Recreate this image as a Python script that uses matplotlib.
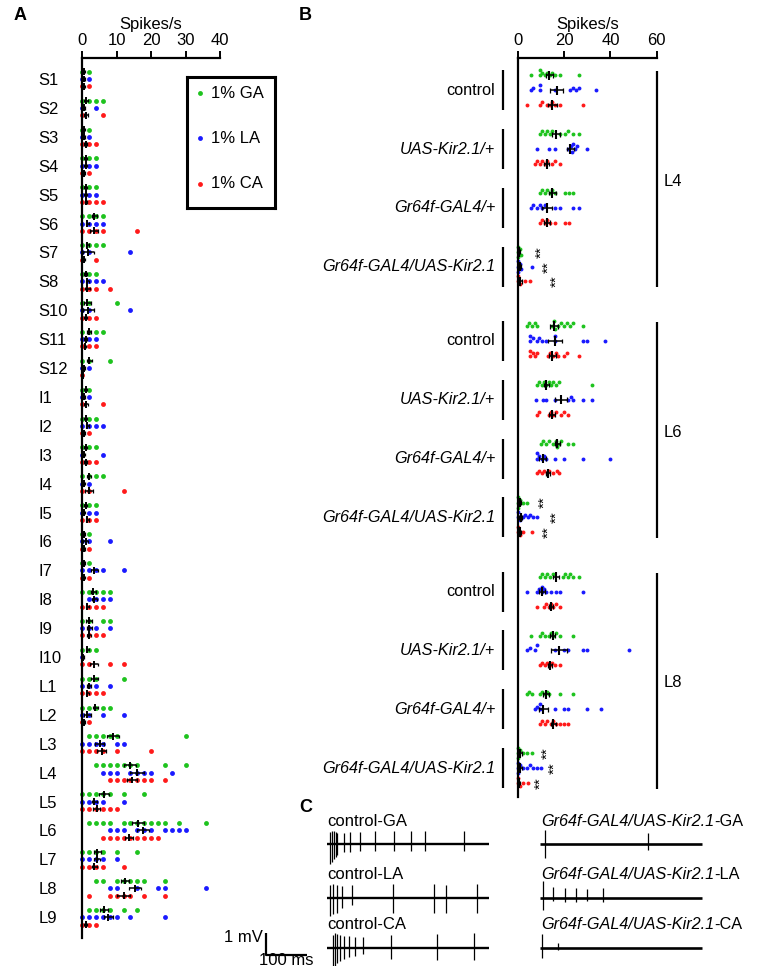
import numpy as np
import matplotlib.pyplot as plt

plt.rcParams['font.family'] = ['Liberation Sans', 'DejaVu Sans']

W, H = 774, 966
fig = plt.figure(figsize=(W / 100, H / 100), dpi=100)


def box(x0, y0, x1, y1):
    # pixel rectangle -> figure fraction
    return [x0 / W, 1 - y1 / H, (x1 - x0) / W, (y1 - y0) / H]


colors = ['#1ec31e', '#1a1aff', '#ff1a1a']
tastants = ['1% GA', '1% LA', '1% CA']

# ---------------- panel A data ----------------
sensilla = ['S1', 'S2', 'S3', 'S4', 'S5', 'S6', 'S7', 'S8', 'S10', 'S11', 'S12',
            'I1', 'I2', 'I3', 'I4', 'I5', 'I6', 'I7', 'I8', 'I9', 'I10',
            'L1', 'L2', 'L3', 'L4', 'L5', 'L6', 'L7', 'L8', 'L9']

a_ga = [[0, 2], [0, 2, 4, 6], [0, 2], [0, 2, 4], [0, 2, 4], [0, 2, 4, 6], [0, 2, 4, 6],
        [0, 2, 4], [0, 2, 10], [0, 2, 4, 6], [0, 2, 8], [0, 2], [0, 2, 4], [0, 2, 4],
        [0, 2, 4, 6], [0, 2, 4], [0, 2], [0, 2], [0, 2, 4, 6, 8], [0, 2, 6, 8], [0, 2, 4],
        [0, 2, 4, 12], [0, 2, 4, 6, 8], [2, 4, 6, 8, 10, 30],
        [4, 6, 8, 10, 12, 14, 16, 24, 30], [0, 2, 4, 6, 8, 12, 18],
        [2, 4, 6, 8, 12, 14, 16, 18, 20, 22, 24, 28, 36], [0, 2, 4, 6, 10, 16],
        [4, 6, 10, 12, 14, 16, 18, 24], [2, 4, 6, 8, 12, 16]]
a_la = [[0, 2], [0, 4], [0, 2], [0, 2, 4], [0, 2, 4], [0, 2, 4, 6], [0, 2, 14],
        [0, 2, 4, 6], [0, 2, 14], [0, 2, 4], [0, 2], [0, 2], [0, 2, 4, 6], [0, 6],
        [0, 2], [0, 2, 4], [0, 2, 8], [0, 2, 4, 6, 12], [2, 4, 6, 8], [0, 2, 4, 8], [0],
        [0, 2, 4, 8], [0, 2, 6, 12], [0, 2, 4, 6, 10, 12],
        [6, 8, 10, 14, 16, 18, 20, 26], [0, 2, 4, 6, 12],
        [8, 10, 12, 16, 18, 20, 24, 26, 28, 30], [0, 2, 4, 6, 10],
        [8, 10, 16, 22, 24, 36], [0, 2, 4, 6, 8, 10, 14, 24]]
a_ca = [[0, 2], [0, 6], [0, 2, 4], [0, 2], [0, 2, 4, 6], [0, 2, 4, 6, 16], [0, 4],
        [0, 2, 4, 8], [0, 2, 4], [0, 2, 4], [0], [0, 6], [0, 2], [0, 2, 4], [0, 2, 12],
        [0, 2, 4], [0, 2], [0, 2], [0, 2, 4, 6], [0, 2, 4, 6], [0, 2, 8, 12],
        [0, 2, 4, 6], [0, 2], [0, 2, 4, 6, 10, 20],
        [8, 10, 12, 14, 16, 18, 20, 24], [0, 2, 4, 6, 8, 10],
        [6, 8, 10, 12, 14, 16, 18, 20, 22], [0, 2, 4, 6, 12],
        [2, 8, 10, 12, 14, 18, 24], [0, 2, 4]]

a_ga_mean = [0.5, 1.1, 0.6, 1.0, 1.0, 3.5, 1.5, 1.0, 1.5, 2.0, 2.0, 1.0, 1.0, 1.0, 2.0,
             1.0, 0.5, 0.4, 3.2, 2.0, 1.5, 3.5, 3.8, 9.0, 13.9, 6.3, 16.2, 4.4, 12.4, 6.3]
a_ga_sem = [0.3, 0.5, 0.3, 0.4, 0.4, 0.7, 0.5, 0.4, 0.9, 0.6, 0.7, 0.4, 0.4, 0.4, 0.6,
            0.4, 0.3, 0.3, 0.7, 0.8, 0.4, 1.0, 0.7, 1.8, 1.7, 1.4, 1.8, 1.1, 1.3, 1.2]
a_la_mean = [0.4, 0.5, 0.5, 1.0, 1.0, 1.5, 1.8, 1.5, 1.8, 1.0, 0.4, 0.4, 1.5, 0.4, 0.4,
             0.5, 1.0, 3.5, 3.5, 2.0, 0.2, 2.0, 1.5, 5.0, 15.8, 3.5, 17.7, 4.2, 15.3, 7.5]
a_la_sem = [0.3, 0.4, 0.3, 0.4, 0.4, 0.5, 1.5, 0.5, 1.5, 0.4, 0.3, 0.3, 0.5, 0.4, 0.3,
            0.3, 0.8, 1.0, 0.7, 0.7, 0.2, 0.6, 0.9, 1.2, 2.0, 0.8, 1.8, 0.9, 1.7, 1.3]
a_ca_mean = [0.4, 1.1, 1.0, 0.4, 1.1, 3.5, 0.5, 1.5, 1.0, 0.8, 0.1, 1.0, 0.4, 1.0, 2.0,
             1.5, 0.4, 0.4, 1.5, 2.0, 3.5, 1.5, 0.5, 5.6, 14.4, 4.2, 13.5, 3.5, 12.0, 1.0]
a_ca_sem = [0.3, 0.6, 0.4, 0.3, 0.4, 1.2, 0.4, 0.6, 0.4, 0.4, 0.1, 0.6, 0.3, 0.4, 1.1,
            0.5, 0.3, 0.3, 0.5, 0.6, 1.2, 0.5, 0.3, 1.4, 1.5, 1.0, 1.2, 0.8, 1.8, 0.5]

# ---------------- panel B data ----------------
genotypes = ['control', 'UAS-Kir2.1/+', 'Gr64f-GAL4/+', 'Gr64f-GAL4/UAS-Kir2.1']
groups = ['L4', 'L6', 'L8']

b_ga = [[5.6, 9.5, 9.5, 10.5, 11.7, 12.7, 13.9, 14.9, 16, 18.2, 26.2],
        [9.5, 10.5, 11.7, 12.7, 13.9, 14.9, 18.2, 20.4, 21.8, 23.7, 26.2],
        [9.5, 10.5, 11.7, 12.7, 13.9, 14.9, 16, 20.4, 22.2, 24],
        [0, 0, 0, 1, 1.5],
        [3.8, 4.9, 6.1, 7.4, 8.4, 14.9, 15.5, 16, 17.5, 18.5, 19.7, 21.1, 22.6, 24, 28],
        [8.1, 9.1, 10.3, 11.3, 12.2, 13.2, 14.2, 15.3, 16.3, 17.7, 31.8],
        [9.9, 11, 12.2, 13.2, 15.3, 16.3, 16.9, 17.7, 18.5, 21.8, 24],
        [0, 0, 0, 0.9, 2.3, 4],
        [9.5, 10.5, 11.7, 12.7, 13.9, 15.3, 19.5, 20.5, 21.5, 22.6, 24, 26.2],
        [5.6, 9.5, 10.5, 11.7, 13.2, 14.2, 15.3, 16.3, 18.2, 24],
        [3.8, 4.9, 6.1, 9.5, 10.5, 11.7, 12.7, 13.6, 18.2, 24],
        [0, 0, 0, 0.9, 2.3, 4, 5.9]]
b_la = [[5.6, 6.6, 9.5, 9.5, 16, 22.6, 23.7, 25, 26.2, 33.8],
        [8.1, 13.3, 16, 21.8, 22.8, 23.5, 24, 24.5, 25.4, 29.8],
        [5.6, 6.6, 8.4, 9.5, 10.5, 11.7, 16, 18.2, 24, 26.2],
        [0, 0, 0, 0.9, 1.5, 6],
        [5.2, 5.2, 6.4, 8.1, 9.3, 10.3, 12.2, 16, 16, 28, 29.8, 37.7],
        [7.8, 10.7, 12.2, 16, 21.8, 22.8, 24, 28, 31.8],
        [8.1, 8.1, 9.3, 10.3, 11.3, 12.2, 16, 19.8, 28, 39.8],
        [0, 0, 0.9, 2, 3, 4.2, 5.2, 6.4, 8.4],
        [4.1, 8.1, 9.3, 10.3, 10.3, 11.3, 12.2, 14.2, 16.3, 18.2, 28],
        [3.8, 5.2, 7.4, 8.1, 16, 19.7, 21.8, 28, 29.8, 47.9],
        [7.4, 8.4, 9.5, 9.5, 16, 19.7, 21.8, 29.8, 35.9],
        [0, 0, 0, 0.9, 2.3, 3.8, 5.2, 6.6, 8.4, 9.9]]
b_ca = [[3.8, 9.5, 10.5, 12.4, 13.9, 14.9, 16, 18.2, 28],
        [7.4, 8.4, 9.5, 10.5, 11.7, 12.7, 14.9, 16, 18.2],
        [9.5, 10.5, 11.7, 12.7, 13.9, 16, 20.4, 22.2],
        [0, 0, 0.9, 3, 5],
        [5.2, 5.2, 6.4, 7.4, 8.4, 13, 14, 15.2, 16.3, 17.5, 19.7, 21.1, 26.2],
        [8.1, 9.3, 13.2, 14.2, 15.3, 16.3, 18.5, 19.7, 21.8],
        [8.1, 9.3, 10.3, 11.3, 12.4, 13.6, 15.3, 16.7, 17.7],
        [0, 0, 0.9, 2.3, 5.9],
        [8.1, 11.3, 12.2, 13.2, 14.2, 15.3, 16.3, 18.2],
        [9.5, 10.5, 11.7, 12.7, 13.9, 14.9, 16, 18.2],
        [9.5, 10.5, 11.7, 12.7, 14.2, 15.3, 16.3, 18.2, 19.7, 21.8],
        [0, 0, 0.9, 2.3, 4.2]]

b_ga_mean = [13.6, 16.5, 14.9, 0.4, 15.6, 12.2, 17.0, 0.7, 16.5, 15.0, 12.2, 1.0]
b_ga_sem = [1.5, 1.7, 1.5, 0.3, 1.6, 1.0, 1.2, 0.4, 1.3, 1.2, 1.4, 0.6]
b_la_mean = [16.8, 22.6, 12.5, 0.8, 15.9, 18.8, 10.7, 1.2, 10.3, 17.9, 11.0, 1.0]
b_la_sem = [2.8, 1.5, 2.0, 0.5, 3.0, 2.6, 1.5, 0.6, 1.2, 3.5, 2.0, 0.6]
b_ca_mean = [14.9, 12.4, 12.7, 1.0, 14.9, 14.6, 13.0, 0.8, 14.2, 13.9, 15.3, 0.5]
b_ca_sem = [2.0, 1.1, 1.3, 0.6, 1.6, 1.4, 1.0, 0.5, 0.8, 0.9, 1.0, 0.3]

# x position of the ** marks (GA, LA, CA) for the Kir2.1 rows of L4, L6, L8
star_x = [[10.3, 13.2, 16.8], [11.4, 16.5, 13.2], [12.7, 16.0, 9.8]]

# ---------------- panel C data (spike times in ms, amplitudes in mV) ----------------
trace_names = ['control-GA', 'control-LA', 'control-CA']
kir_name = 'Gr64f-GAL4/UAS-Kir2.1'
trace_tastes = ['-GA', '-LA', '-CA']
trace_len = 395

ctrl_spikes = [[8, 13, 18, 23, 26, 41, 57, 81, 118, 164, 205, 240, 336],
               [8, 16, 24, 37, 62, 162, 262, 291, 366],
               [15, 20, 26, 32, 42, 55, 69, 89, 157, 268, 359]]
ctrl_up = [[0.55, 0.6, 0.6, 0.55, 0.5, 0.5, 0.55, 0.55, 0.58, 0.58, 0.58, 0.58, 0.58],
           [0.6, 0.65, 0.6, 0.55, 0.6, 0.65, 0.65, 0.6, 0.65],
           [0.6, 0.68, 0.65, 0.6, 0.55, 0.55, 0.5, 0.5, 0.6, 0.65, 0.68]]
ctrl_down = [[0.9, 0.8, 0.7, 0.6, 0.5, 0.35, 0.35, 0.3, 0.3, 0.3, 0.3, 0.3, 0.3],
             [0.8, 0.75, 0.7, 0.45, 0.3, 0.7, 0.7, 0.7, 0.7],
             [0.9, 0.85, 0.7, 0.6, 0.5, 0.4, 0.35, 0.3, 0.5, 0.53, 0.53]]
kir_spikes = [[12, 264], [8, 32, 61, 89, 115, 154], [4, 45]]
kir_up = [[0.65, 0.5], [0.76, 0.5, 0.45, 0.45, 0.4, 0.45], [0.64, 0.2]]
kir_down = [[0.65, 0.26], [0.55, 0.15, 0.2, 0.2, 0.15, 0.2], [0.45, 0.1]]

# ================= panel A =================
axA = fig.add_axes(box(82.3, 58, 220, 938))
axA.set_xlim(0, 40)
axA.set_ylim(29.72, -0.727)
a_sets = [(a_ga, a_ga_mean, a_ga_sem), (a_la, a_la_mean, a_la_sem), (a_ca, a_ca_mean, a_ca_sem)]
for j, (vals, means, sems) in enumerate(a_sets):
    off = (j - 1) * 0.253
    for i, v in enumerate(vals):
        axA.plot(v, np.full(len(v), i + off), 'o', ms=3.5, color=colors[j], mec='none',
                 zorder=2, clip_on=False)
    y = np.arange(len(sensilla)) + off
    m = np.array(means)
    s = np.array(sems)
    axA.hlines(y, m - s, m + s, color='k', lw=1.1, zorder=3)
    axA.vlines(m, y - 0.12, y + 0.12, color='k', lw=1.4, zorder=3)
    axA.vlines(m - s, y - 0.06, y + 0.06, color='k', lw=0.9, zorder=3)
    axA.vlines(m + s, y - 0.06, y + 0.06, color='k', lw=0.9, zorder=3)

for sp in ['right', 'bottom']:
    axA.spines[sp].set_visible(False)
for sp in ['top', 'left']:
    axA.spines[sp].set_linewidth(1.6)
axA.xaxis.set_ticks_position('top')
axA.xaxis.set_label_position('top')
axA.set_xticks([0, 10, 20, 30, 40])
axA.tick_params(axis='x', direction='out', length=5, width=1.4, labelsize=12, pad=2)
axA.set_xlabel('Spikes/s', fontsize=12, labelpad=3)
axA.set_yticks(range(len(sensilla)))
axA.set_yticklabels(sensilla, fontsize=12)
axA.tick_params(axis='y', length=0, pad=31.7)
for lab in axA.get_yticklabels():
    lab.set_horizontalalignment('left')

# legend box
axL = fig.add_axes(box(186.7, 76.7, 275, 208.3))
axL.set_xlim(0, 1)
axL.set_ylim(1, 0)
axL.set_xticks([])
axL.set_yticks([])
for sp in axL.spines.values():
    sp.set_linewidth(2.2)
for j, name in enumerate(tastants):
    ly = 0.124 + j * 0.345
    axL.plot(0.15, ly, 'o', ms=3.5, color=colors[j], mec='none')
    axL.text(0.27, ly, name, fontsize=12, va='center', ha='left')

# ================= panel B =================
axB = fig.add_axes(box(518, 58, 656.7, 797))
axB.set_xlim(0, 60)
axB.set_ylim(12.02, -0.549)
gstep = 4.264
row = 0.252
xs_px = 138.7 / 60.0   # px per spike/s
ys_px = 58.8           # px per genotype unit
dot_d = 3.7


def swarm_offsets(vals):
    vals = np.asarray(vals, dtype=float)
    res = np.zeros(len(vals))
    placed = []
    for idx in np.argsort(vals, kind='stable'):
        x = vals[idx] * xs_px
        best, bestd = 0.0, -1.0
        for o in (0.0, -0.75 * dot_d, 0.75 * dot_d, -1.4 * dot_d, 1.4 * dot_d):
            md = min([np.hypot(x - px, o - po) for px, po in placed] or [99.0])
            if md >= dot_d * 0.9:
                best = o
                break
            if md > bestd:
                bestd, best = md, o
        placed.append((x, best))
        res[idx] = best
    return res / ys_px


b_sets = [(b_ga, b_ga_mean, b_ga_sem), (b_la, b_la_mean, b_la_sem), (b_ca, b_ca_mean, b_ca_sem)]
centers = []
for g in range(len(groups)):
    for k in range(len(genotypes)):
        centers.append(g * gstep + k)
centers = np.array(centers)

for j, (vals, means, sems) in enumerate(b_sets):
    off = (j - 1) * row
    for i, v in enumerate(vals):
        yy = centers[i] + off + swarm_offsets(v)
        axB.plot(v, yy, 'o', ms=2.8, color=colors[j], mec='none', zorder=2, clip_on=False)
    y = centers + off
    m = np.array(means)
    s = np.array(sems)
    axB.hlines(y, m - s, m + s, color='k', lw=1.1, zorder=3)
    axB.vlines(m, y - 0.08, y + 0.08, color='k', lw=1.5, zorder=3)
    axB.vlines(m - s, y - 0.04, y + 0.04, color='k', lw=0.9, zorder=3)
    axB.vlines(m + s, y - 0.04, y + 0.04, color='k', lw=0.9, zorder=3)

# genotype labels and bars
for g in range(len(groups)):
    for k, name in enumerate(genotypes):
        c = g * gstep + k
        axB.vlines(-6.6, c - 0.34, c + 0.34, color='k', lw=1.6, clip_on=False)
        axB.text(-9.8, c, name, fontsize=11.7, ha='right', va='center',
                 style='normal' if k == 0 else 'italic', clip_on=False)
    base = g * gstep
    axB.vlines(60, base - 0.32, base + 3.35, color='k', lw=1.6, clip_on=False)
    axB.text(63.0, base + 1.55, groups[g], fontsize=12, ha='left', va='center',
             clip_on=False)
    for j in range(3):
        axB.text(star_x[g][j], base + 3 + (j - 1) * row, '**', fontsize=11, rotation=90,
                 ha='center', va='center', clip_on=False)

for sp in ['right', 'bottom']:
    axB.spines[sp].set_visible(False)
for sp in ['top', 'left']:
    axB.spines[sp].set_linewidth(1.6)
axB.xaxis.set_ticks_position('top')
axB.xaxis.set_label_position('top')
axB.set_xticks([0, 20, 40, 60])
axB.tick_params(axis='x', direction='out', length=5, width=1.4, labelsize=12, pad=2)
axB.set_xlabel('Spikes/s', fontsize=12, labelpad=3)
axB.set_yticks([])

# ================= panel C =================
axC = fig.add_axes(box(222, 800, 774, 966))
axC.set_xlim((222 - 326.7) / 0.41, (774 - 326.7) / 0.41)
axC.set_ylim(-(966 - 844) / 22.0, (844 - 800) / 22.0)
axC.axis('off')
kir_shift = (540 - 326.7) / 0.41
base_y = [0.0, -2.45, -4.72]
label_y = [1.0, -1.4, -3.65]

for r in range(3):
    b0 = base_y[r]
    axC.plot([0, trace_len], [b0, b0], color='k', lw=1.7, solid_capstyle='butt')
    axC.vlines(ctrl_spikes[r], b0 - np.array(ctrl_down[r]), b0 + np.array(ctrl_up[r]),
               color='k', lw=0.9)
    axC.text(2, label_y[r], trace_names[r], fontsize=12, ha='left', va='center')

    axC.plot([kir_shift, kir_shift + trace_len], [b0, b0], color='k', lw=1.9,
             solid_capstyle='butt')
    axC.vlines(kir_shift + np.array(kir_spikes[r]), b0 - np.array(kir_down[r]),
               b0 + np.array(kir_up[r]), color='k', lw=0.9)
    t = axC.text(kir_shift + 2, label_y[r], kir_name, fontsize=11.7, style='italic',
                 ha='left', va='center')
    axC.annotate(trace_tastes[r], xy=(1, 0), xycoords=t, fontsize=11.7,
                 ha='left', va='bottom')

# scale bar: 1 mV, 100 ms
sx = (265.7 - 326.7) / 0.41
sy = -(955 - 844) / 22.0
axC.plot([sx, sx, sx + 100], [sy + 1, sy, sy], color='k', lw=1.6, solid_capstyle='butt')
axC.text(sx - 6, sy + 0.78, '1 mV', fontsize=12, ha='right', va='center')
axC.text(sx + 50, sy - 0.23, '100 ms', fontsize=12, ha='center', va='center')

# panel letters
fig.text(14 / W, 1 - 16 / H, 'A', fontsize=13, fontweight='bold', ha='left', va='center')
fig.text(299 / W, 1 - 16 / H, 'B', fontsize=13, fontweight='bold', ha='left', va='center')
fig.text(299 / W, 1 - 808 / H, 'C', fontsize=13, fontweight='bold', ha='left', va='center')

fig.savefig('out.png', dpi=100)
